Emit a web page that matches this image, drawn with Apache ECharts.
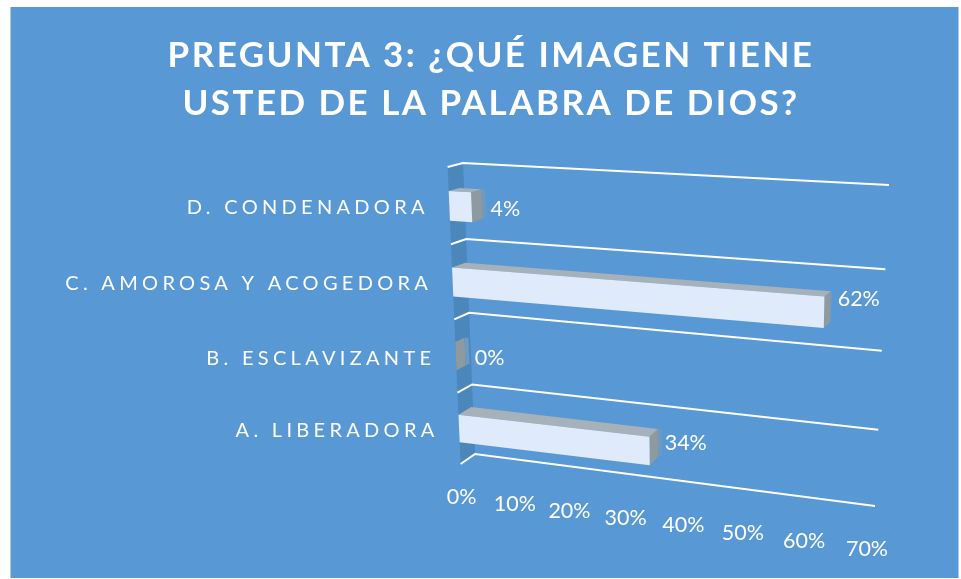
<!DOCTYPE html>
<html>
<head>
<meta charset="utf-8">
<style>html,body{margin:0;padding:0;background:#fff}#c{width:961px;height:579px}</style>
<script src="https://cdn.jsdelivr.net/npm/echarts@6/dist/echarts.min.js"></script>
</head>
<body>
<div id="c"></div>
<script>
const categories = ['A. LIBERADORA', 'B. ESCLAVIZANTE', 'C. AMOROSA Y ACOGEDORA', 'D. CONDENADORA'];
const values = [34, 0, 62, 4];
const xTicks = [0, 10, 20, 30, 40, 50, 60, 70];
const titleText = 'PREGUNTA 3: ¿QUÉ IMAGEN TIENE\nUSTED DE LA PALABRA DE DIOS?';

// Perspective of the 3-D scene: corners of the front and back planes of the plot box
const FRONT = [[447.6,167],[881,190],[871,516],[460.6,464]];
const BACK  = [[463,163],[889,185],[875,506],[475,454]];
const BAR_FILL = 0.385;
const COL = {bg:'#5898d5', wall:'#4b87bb', front:'#dfeafa', top:'#a6b1b9', side:'#8f9aa0', strip:'#6f9ac0', text:'#ffffff'};

// Letter spacing per font size (canvas text keeps its exact string)
const SPACING = {'35px':'2.45px','20px':'4.3px'};
const nativeFill = CanvasRenderingContext2D.prototype.fillText;
CanvasRenderingContext2D.prototype.fillText = function(t,x,y,m){
  const s = (this.font.match(/(\d+(?:\.\d+)?)px/)||[])[0];
  this.letterSpacing = SPACING[s] || '0px';
  return m===undefined ? nativeFill.call(this,t,x,y) : nativeFill.call(this,t,x,y,m);
};

function homography(q){
  const [[x0,y0],[x1,y1],[x2,y2],[x3,y3]] = q;
  const dx1=x1-x2,dx2=x3-x2,sx=x0-x1+x2-x3,dy1=y1-y2,dy2=y3-y2,sy=y0-y1+y2-y3;
  const den=dx1*dy2-dx2*dy1, g=(sx*dy2-dx2*sy)/den, h=(dx1*sy-sx*dy1)/den;
  const a=x1-x0+g*x1,b=x3-x0+h*x3,d=y1-y0+g*y1,e=y3-y0+h*y3;
  return (u,v)=>{const w=g*u+h*v+1;return [(a*u+b*v+x0)/w,(d*u+e*v+y0)/w];};
}
const hF = homography(FRONT), hB = homography(BACK);
// u,v in 0..1 across the grid, w 0 = front plane, 1 = back plane
function P(u,v,w){const f=hF(u,v),b=hB(u,v);return [f[0]+(b[0]-f[0])*w,f[1]+(b[1]-f[1])*w];}
function norm(api,params,val,cat){
  const c=api.coord([val,cat]),s=params.coordSys;
  return [(c[0]-s.x)/s.width,(c[1]-s.y)/s.height];
}
const poly=(points,fill)=>({type:'polygon',shape:{points},style:{fill}});

const chart = echarts.init(document.getElementById('c'),null,{renderer:'canvas'});
chart.setOption({
  animation:false,
  backgroundColor:'#ffffff',
  graphic:[{type:'rect',z:-10,silent:true,shape:{x:10.5,y:7,width:948,height:571},style:{fill:COL.bg}}],
  title:{text:titleText,left:486,top:27,textAlign:'center',
    textStyle:{color:COL.text,fontFamily:'Lato',fontWeight:'bold',fontSize:35,lineHeight:48}},
  grid:{left:450,top:170,width:420,height:320},
  xAxis:{type:'value',min:0,max:70,interval:10,show:false},
  yAxis:{type:'category',data:categories,show:false},
  series:[
    {type:'custom',name:'wall',coordinateSystem:'cartesian2d',clip:false,z:1,silent:true,data:[[0,0]],
     renderItem(){return poly([P(0,0,0),P(0,0,1),P(0,1,1),P(0,1,0)],COL.wall);}},
    {type:'custom',name:'gridlines',coordinateSystem:'cartesian2d',clip:false,z:2,silent:true,
     data:[...categories.map((c,i)=>[0,i]),[0,categories.length]],
     renderItem(params,api){
       const v=1-api.value(1)/categories.length;
       return {type:'polyline',shape:{points:[P(0,v,0),P(0,v,1),P(1,v,1)]},
         style:{stroke:'#ffffff',lineWidth:2,fill:null}};
     }},
    {type:'custom',name:'bars',coordinateSystem:'cartesian2d',clip:false,z:3,silent:true,
     data:values.map((v,i)=>[v,i]),encode:{x:0,y:1},
     renderItem(params,api){
       const val=api.value(0),[u,v]=norm(api,params,val,api.value(1));
       const dv=BAR_FILL/categories.length/2,t=v-dv,b=v+dv;
       const wb=Math.min(0.88,0.62+val*0.02);
       const ft0=P(0,t,0),fb0=P(0,b,0),ft=P(u,t,0),fb=P(u,b,0);
       const bt0=P(0,t,wb),bt=P(u,t,wb),bb=P(u,b,wb);
       const sw=Math.min(4,(70-val)*0.15);
       const children=[
         poly([bt,[bt[0]+sw,bt[1]],[bb[0]+sw,bb[1]-2],bb],COL.strip),
         poly([ft,bt,bb,fb],COL.side)
       ];
       if(val>0){
         children.push(poly([ft0,bt0,bt,ft],COL.top));
         children.push(poly([ft0,ft,fb,fb0],COL.front));
       }
       return {type:'group',children};
     }},
    {type:'custom',name:'value labels',coordinateSystem:'cartesian2d',clip:false,z:4,silent:true,
     data:values.map((v,i)=>[v,i]),encode:{x:0,y:1},
     renderItem(params,api){
       const val=api.value(0),[u,v]=norm(api,params,val,api.value(1));
       const a=P(u,v,0.7);
       return {type:'text',x:a[0]+8.5,y:a[1]+6.5-val*0.25,
         style:{text:val+'%',fill:COL.text,font:'21.5px Lato',textAlign:'left',textVerticalAlign:'middle'}};
     }},
    {type:'custom',name:'category labels',coordinateSystem:'cartesian2d',clip:false,z:4,silent:true,
     data:categories.map((c,i)=>[0,i]),encode:{x:0,y:1},
     renderItem(params,api){
       const i=api.value(1),[u,v]=norm(api,params,0,i);
       const a=P(u,v,0);
       return {type:'text',x:a[0]-20.5,y:a[1]+2,
         style:{text:categories[i],fill:COL.text,font:'20px Lato',textAlign:'right',textVerticalAlign:'middle'}};
     }},
    {type:'custom',name:'tick labels',coordinateSystem:'cartesian2d',clip:false,z:4,silent:true,
     data:xTicks.map(t=>[t,0]),encode:{x:0},
     renderItem(params,api){
       const val=api.value(0),[u]=norm(api,params,val,0);
       const a=P(u,1,0);
       return {type:'text',x:a[0]+1-u*5,y:a[1]+33,
         style:{text:val+'%',fill:COL.text,font:'21.5px Lato',textAlign:'center',textVerticalAlign:'middle'}};
     }}
  ]
});
</script>
</body>
</html>
